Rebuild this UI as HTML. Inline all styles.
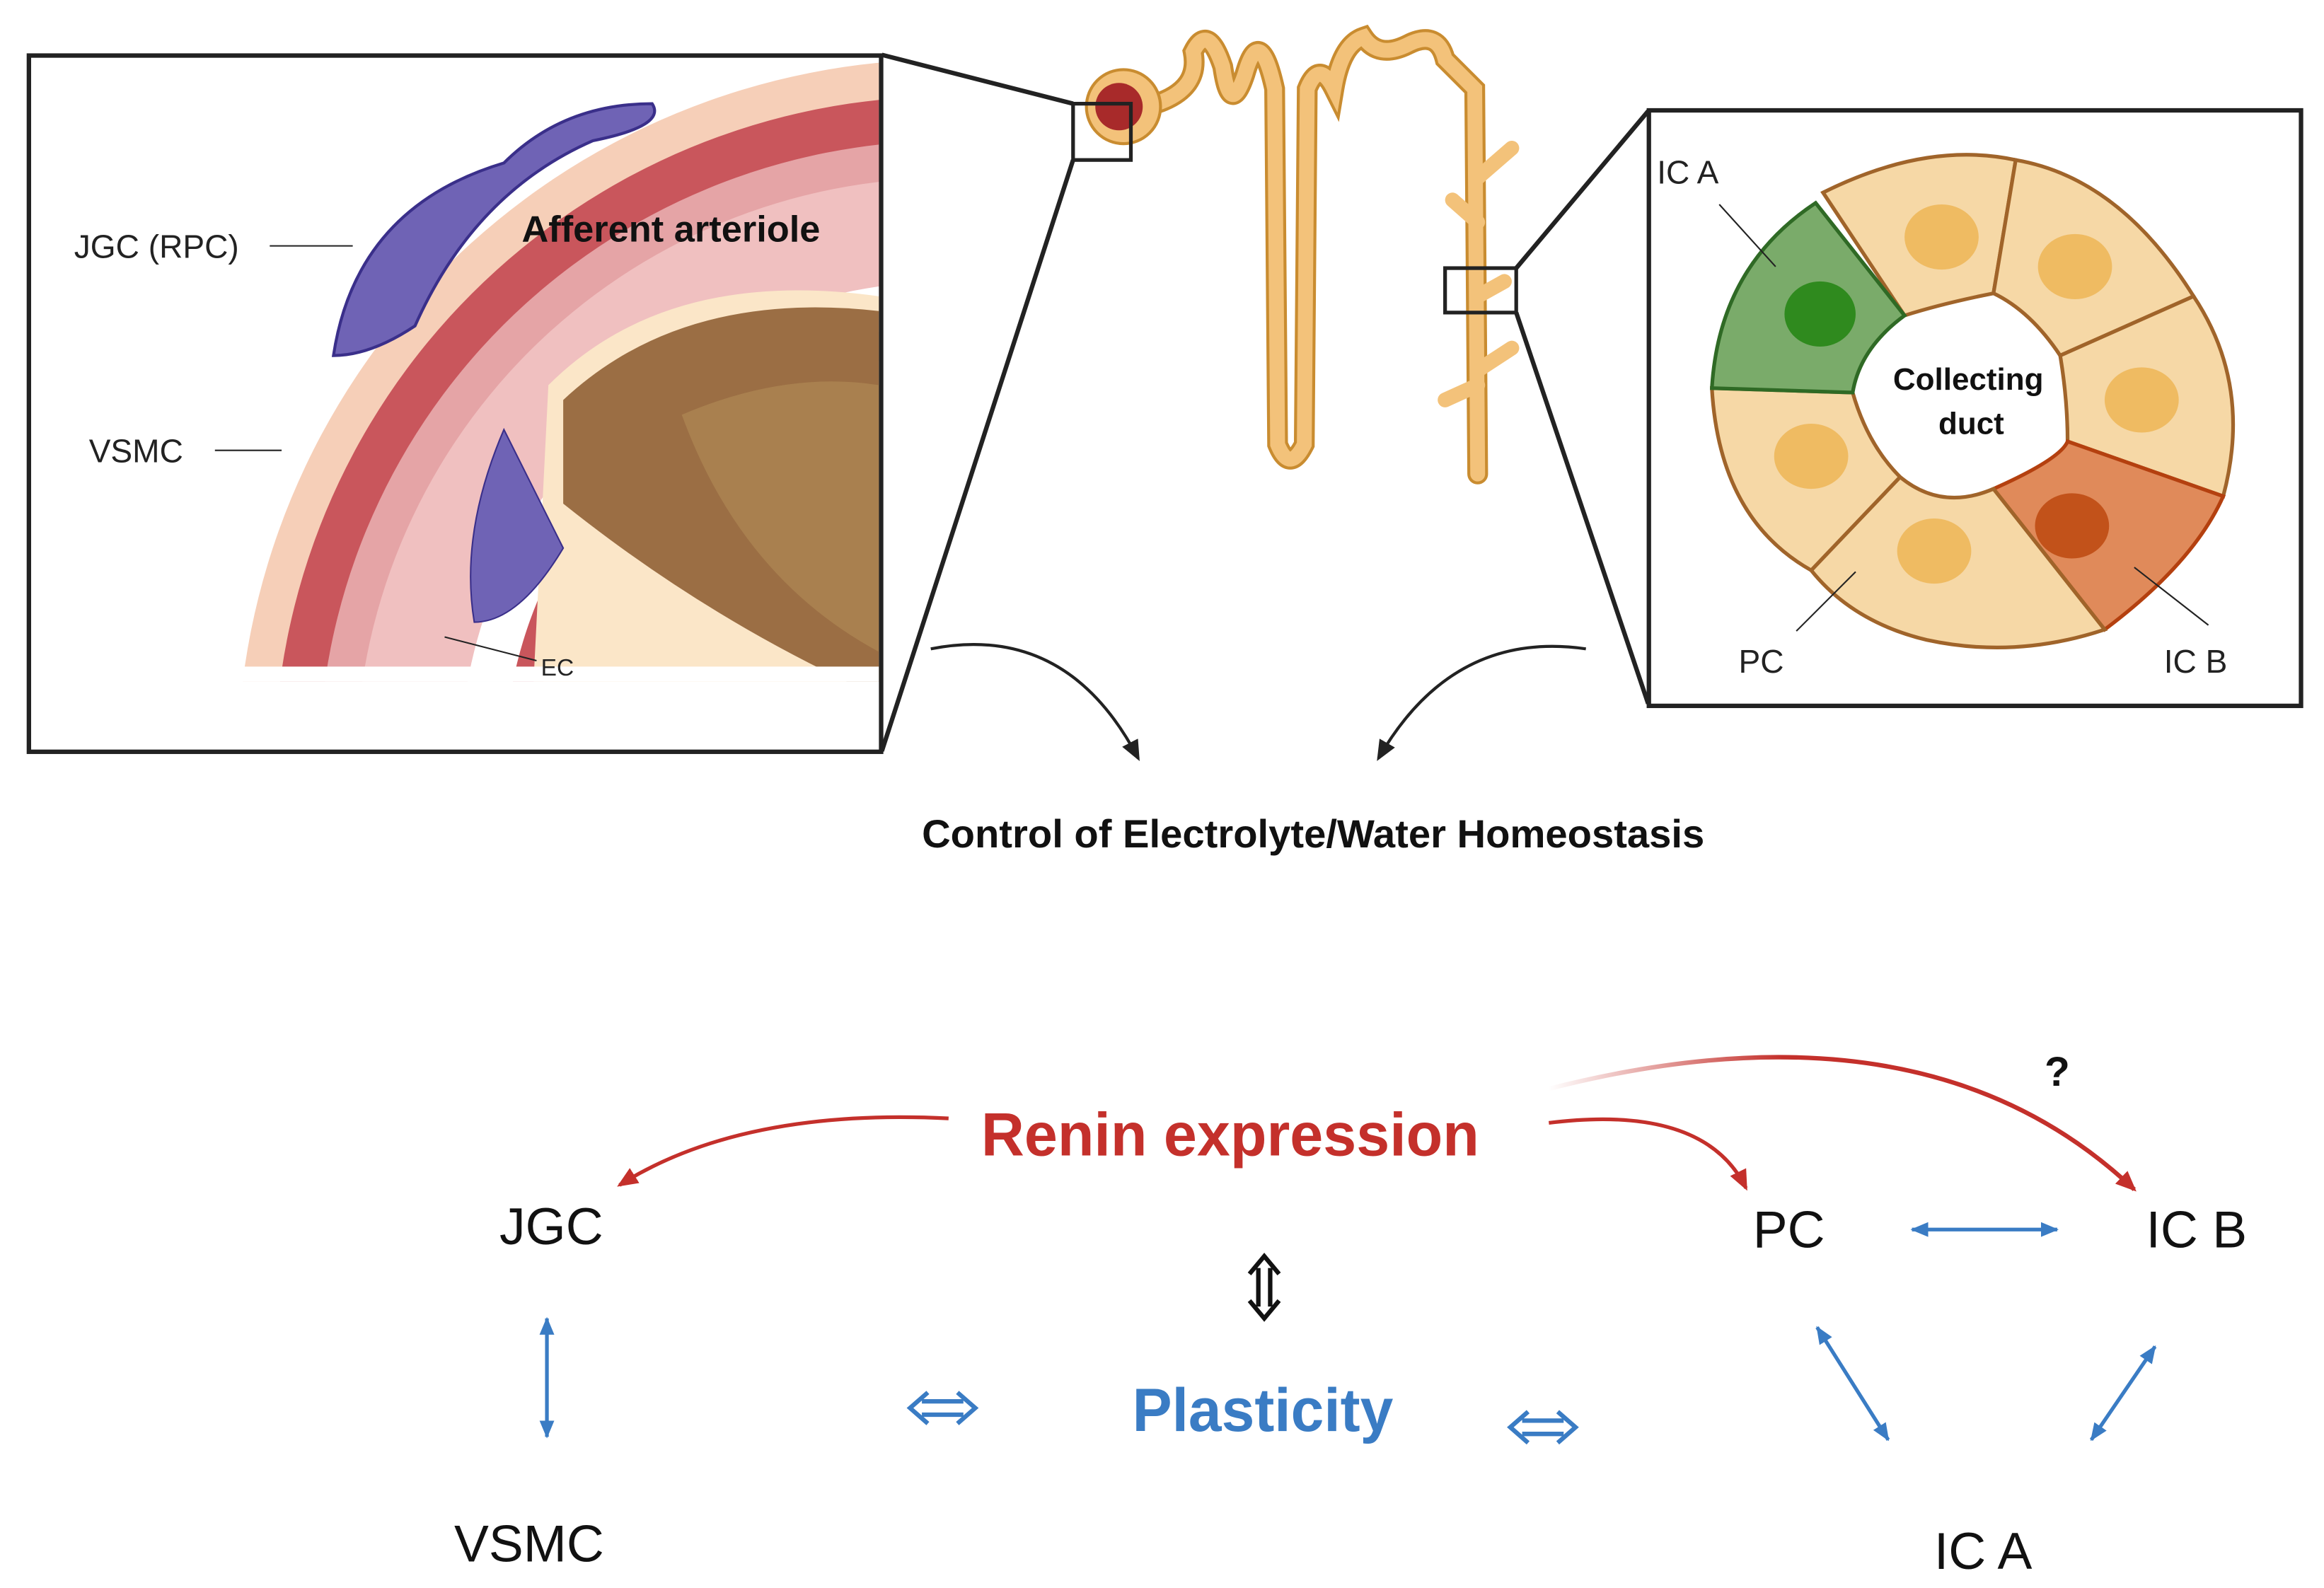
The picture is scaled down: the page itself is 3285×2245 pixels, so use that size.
<!DOCTYPE html>
<html><head><meta charset="utf-8"><style>
html,body{margin:0;padding:0;background:#fff}
svg{display:block}
text{font-family:"Liberation Sans","DejaVu Sans",sans-serif}
</style></head><body>
<svg width="3285" height="2245" viewBox="0 0 1568 1072" preserveAspectRatio="none" xmlns="http://www.w3.org/2000/svg">
<defs>
<clipPath id="lc"><rect x="20" y="38" width="573" height="422"/></clipPath>
<linearGradient id="rg" x1="0" x2="1"><stop offset="0" stop-color="#c4302b" stop-opacity="0"/><stop offset="0.4" stop-color="#c4302b"/></linearGradient>
<marker id="ar" markerUnits="userSpaceOnUse" markerWidth="16" markerHeight="16" refX="12" refY="8" orient="auto"><path d="M0,2 L14,8 L0,14 z" fill="#c4302b"/></marker>
<marker id="ak" markerUnits="userSpaceOnUse" markerWidth="16" markerHeight="16" refX="12" refY="8" orient="auto"><path d="M0,2 L14,8 L0,14 z" fill="#222"/></marker>
<marker id="ab" markerUnits="userSpaceOnUse" markerWidth="14" markerHeight="14" refX="11" refY="7" orient="auto-start-reverse"><path d="M0,2 L12,7 L0,12 z" fill="#3a7cc4"/></marker>
</defs>
<g clip-path="url(#lc)">
<circle cx="640" cy="520" r="480" fill="#f6cfb8"/>
<circle cx="640" cy="520" r="455" fill="#c9565c"/>
<circle cx="640" cy="520" r="425" fill="#e5a4a6"/>
<circle cx="640" cy="520" r="400" fill="#f0c0c0"/>
<circle cx="640" cy="520" r="330" fill="#fff"/>
<circle cx="640" cy="520" r="300" fill="#c9565c"/>
<circle cx="640" cy="520" r="280" fill="#fbe6c8"/>
<circle cx="680" cy="500" r="310" fill="#e0bf78"/>
<path d="M370,260 Q450,180 593,200 L593,460 L360,460 Z" fill="#fbe6c8"/>
<path d="M380,270 Q460,195 593,210 L593,470 Q480,420 380,340 Z" fill="#9b6e44"/>
<path d="M460,280 Q530,250 593,260 L593,440 Q500,390 460,280 Z" fill="#a9804f"/>
<path d="M340,290 Q360,330 380,370 Q350,420 320,420 Q310,360 340,290 Z" fill="#6f63b5" stroke="#3a2f8a"/>
<path d="M225,240 Q240,140 340,110 Q380,70 440,70 Q450,85 400,95 Q320,130 280,220 Q250,240 225,240 Z" fill="#6f63b5" stroke="#3a2f8a" stroke-width="2"/>
<rect x="20" y="450" width="580" height="20" fill="#fff"/>
</g>
<rect x="19.5" y="37.5" width="575" height="470" fill="none" stroke="#222" stroke-width="3"/>
<text x="50" y="174" font-size="22" fill="#222">JGC (RPC)</text>
<line x1="182" y1="166" x2="238" y2="166" stroke="#222"/>
<text x="60" y="312" font-size="22" fill="#222">VSMC</text>
<line x1="145" y1="304" x2="190" y2="304" stroke="#222"/>
<text x="352" y="163" font-size="25" font-weight="bold" fill="#111">Afferent arteriole</text>
<text x="365" y="456" font-size="16" fill="#222">EC</text>
<line x1="300" y1="430" x2="362" y2="446" stroke="#222"/>
<line x1="595" y1="37" x2="724" y2="70" stroke="#222" stroke-width="3"/>
<line x1="595" y1="507" x2="724" y2="108" stroke="#222" stroke-width="3"/>
<g fill="none" stroke="#c98c30" stroke-width="14" stroke-linecap="round"><path d="M780,70 Q810,60 805,35 Q815,15 825,45 Q830,80 840,50 Q850,15 860,60 L862,300 Q870,320 880,300 L882,60 Q890,40 900,60 Q905,30 920,25 Q930,40 950,30 Q970,20 975,40 L995,60 L997,320"/></g>
<g fill="none" stroke="#f3c27a" stroke-width="10" stroke-linecap="round"><path d="M780,70 Q810,60 805,35 Q815,15 825,45 Q830,80 840,50 Q850,15 860,60 L862,300 Q870,320 880,300 L882,60 Q890,40 900,60 Q905,30 920,25 Q930,40 950,30 Q970,20 975,40 L995,60 L997,320"/>
<path d="M997,120 L1020,100 M997,150 L980,135 M997,250 L1020,235 M997,260 L975,270 M997,200 L1015,190"/></g>
<circle cx="758" cy="72" r="25" fill="#f3c27a" stroke="#c98c30" stroke-width="2"/>
<circle cx="755" cy="72" r="16" fill="#a82a2a"/>
<rect x="724" y="70" width="39" height="38" fill="none" stroke="#222" stroke-width="2.5"/>
<rect x="975" y="181" width="48" height="30" fill="none" stroke="#222" stroke-width="2.5"/>
<line x1="1023" y1="181" x2="1112" y2="75" stroke="#222" stroke-width="3"/>
<line x1="1023" y1="211" x2="1112" y2="475" stroke="#222" stroke-width="3"/>
<rect x="1112.5" y="74.5" width="440" height="402" fill="#fff" stroke="#222" stroke-width="3"/>
<g stroke="#a0642a" stroke-width="2.5">
<path d="M1230,130 Q1300,95 1360,108 L1345,198 Q1310,205 1285,213 Z" fill="#f6d8a6"/>
<path d="M1360,108 Q1430,120 1480,200 L1390,240 Q1370,210 1345,198 Z" fill="#f6d8a6"/>
<path d="M1480,200 Q1520,260 1500,335 L1395,298 Q1395,270 1390,240 Z" fill="#f6d8a6"/>
<path d="M1500,335 Q1480,380 1420,425 L1345,330 Q1390,310 1395,298 Z" fill="#e08a5a" stroke="#b4400f"/>
<path d="M1420,425 Q1360,445 1300,432 Q1250,420 1222,385 L1282,322 Q1310,345 1345,330 Z" fill="#f6d8a6"/>
<path d="M1222,385 Q1160,350 1155,262 L1250,265 Q1260,300 1282,322 Z" fill="#f6d8a6"/>
<path d="M1155,262 Q1160,180 1225,137 L1285,213 Q1255,235 1250,265 Z" fill="#7aab6a" stroke="#2f6a25"/>
</g>
<ellipse cx="1310" cy="160" rx="25" ry="22" fill="#efbb62"/>
<ellipse cx="1400" cy="180" rx="25" ry="22" fill="#efbb62"/>
<ellipse cx="1445" cy="270" rx="25" ry="22" fill="#efbb62"/>
<ellipse cx="1398" cy="355" rx="25" ry="22" fill="#c2521a"/>
<ellipse cx="1305" cy="372" rx="25" ry="22" fill="#efbb62"/>
<ellipse cx="1222" cy="308" rx="25" ry="22" fill="#efbb62"/>
<ellipse cx="1228" cy="212" rx="24" ry="22" fill="#2f8a1e"/>
<text x="1328" y="263" font-size="21" font-weight="bold" text-anchor="middle" fill="#111">Collecting</text>
<text x="1330" y="293" font-size="21" font-weight="bold" text-anchor="middle" fill="#111">duct</text>
<text x="1118" y="124" font-size="22" fill="#222">IC A</text>
<line x1="1160" y1="138" x2="1198" y2="180" stroke="#222"/>
<text x="1173" y="454" font-size="22" fill="#222">PC</text>
<line x1="1212" y1="426" x2="1252" y2="386" stroke="#222"/>
<text x="1460" y="454" font-size="22" fill="#222">IC B</text>
<line x1="1490" y1="422" x2="1440" y2="383" stroke="#222"/>
<path d="M628,438 Q720,420 768,512" fill="none" stroke="#222" stroke-width="2" marker-end="url(#ak)"/>
<path d="M1070,438 Q980,425 930,512" fill="none" stroke="#222" stroke-width="2" marker-end="url(#ak)"/>
<text x="886" y="572" font-size="26.5" font-weight="bold" text-anchor="middle" fill="#111" textLength="528" lengthAdjust="spacingAndGlyphs">Control of Electrolyte/Water Homeostasis</text>
<text x="830" y="780" font-size="41" font-weight="bold" text-anchor="middle" fill="#c4302b" textLength="336" lengthAdjust="spacingAndGlyphs">Renin expression</text>
<text x="852" y="966" font-size="41" font-weight="bold" text-anchor="middle" fill="#3a7cc4" textLength="176" lengthAdjust="spacingAndGlyphs">Plasticity</text>
<text x="372" y="840" font-size="35" text-anchor="middle" fill="#111">JGC</text>
<text x="357" y="1054" font-size="35" text-anchor="middle" fill="#111">VSMC</text>
<text x="1207" y="842" font-size="35" text-anchor="middle" fill="#111">PC</text>
<text x="1482" y="842" font-size="35" text-anchor="middle" fill="#111">IC B</text>
<text x="1338" y="1059" font-size="35" text-anchor="middle" fill="#111">IC A</text>
<text x="1388" y="733" font-size="28" font-weight="bold" text-anchor="middle" fill="#111">?</text>
<path d="M640,755 Q500,748 418,800" fill="none" stroke="#c4302b" stroke-width="2.5" marker-end="url(#ar)"/>
<path d="M1045,758 Q1150,745 1178,802" fill="none" stroke="#c4302b" stroke-width="2.5" marker-end="url(#ar)"/>
<path d="M1045,735 Q1300,670 1440,803" fill="none" stroke="url(#rg)" stroke-width="3" marker-end="url(#ar)"/>
<g stroke="#3a7cc4" stroke-width="2.5" marker-start="url(#ab)" marker-end="url(#ab)">
<line x1="369" y1="890" x2="369" y2="970"/>
<line x1="1290" y1="830" x2="1388" y2="830"/>
<line x1="1226" y1="896" x2="1274" y2="972"/>
<line x1="1454" y1="909" x2="1411" y2="972"/>
</g>
<g fill="none" stroke="#3a7cc4" stroke-width="3" stroke-linejoin="miter">
<path d="M622,946 L650,946 M622,955 L650,955 M626,940 L614,950.5 L626,961 M646,940 L658,950.5 L646,961"/>
<path d="M1027,959 L1055,959 M1027,968 L1055,968 M1031,953 L1019,963.5 L1031,974 M1051,953 L1063,963.5 L1051,974"/>
</g>
<g fill="none" stroke="#111" stroke-width="3">
<path d="M849,856 L849,882 M857,856 L857,882 M843,860 L853,848 L863,860 M843,878 L853,890 L863,878"/>
</g>
</svg>
</body></html>
